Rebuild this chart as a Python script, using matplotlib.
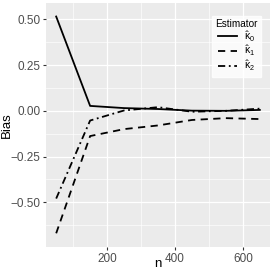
import matplotlib
matplotlib.use("Agg")
import matplotlib.pyplot as plt

plt.rcParams["font.family"] = ["Liberation Sans", "DejaVu Sans"]
plt.rcParams["mathtext.fontset"] = "custom"
plt.rcParams["mathtext.rm"] = "Liberation Sans"
plt.rcParams["mathtext.it"] = "Liberation Sans"

n = [50, 150, 250, 350, 450, 550, 650]
bias_k0 = [0.516, 0.027, 0.015, 0.010, 0.001, 0.000, 0.005]
bias_k1 = [-0.670, -0.138, -0.100, -0.080, -0.050, -0.040, -0.045]
bias_k2 = [-0.480, -0.053, 0.002, 0.020, -0.005, 0.000, 0.012]
labels = [r"$\hat{\kappa}_0$", r"$\hat{\kappa}_1$", r"$\hat{\kappa}_2$"]

fig = plt.figure(figsize=(2.73, 2.73), dpi=100)
ax = fig.add_axes([46/273, 1 - 247/273, 224/273, 244/273])
ax.set_facecolor("#EBEBEB")

ax.plot(n, bias_k0, color="black", lw=1.3, ls="-", label=labels[0])
ax.plot(n, bias_k1, color="black", lw=1.3, ls=(0, (4, 3)), label=labels[1])
ax.plot(n, bias_k2, color="black", lw=1.3, ls=(0, (4, 2, 1, 2)), label=labels[2])

ax.set_xlim(20, 680)
ax.set_ylim(-0.745, 0.59)
ax.set_xticks([200, 400, 600])
ax.set_xticks([100, 300, 500], minor=True)
ax.set_yticks([-0.5, -0.25, 0, 0.25, 0.5])
ax.set_yticks([-0.625, -0.375, -0.125, 0.125, 0.375], minor=True)
ax.set_yticklabels(["\u22120.50", "\u22120.25", "0.00", "0.25", "0.50"])
ax.grid(which="major", color="white", lw=0.9)
ax.grid(which="minor", color="white", lw=0.45)
ax.set_axisbelow(True)
for s in ax.spines.values():
    s.set_visible(False)
ax.tick_params(which="major", length=2.5, color="#333333", labelsize=8.5, labelcolor="#4D4D4D", pad=1.5)
ax.tick_params(which="minor", length=0)
ax.set_xlabel("n", fontsize=9.5)
ax.set_ylabel("Bias", fontsize=9.5)
ax.xaxis.set_label_coords(0.5, -0.045)
ax.yaxis.set_label_coords(-0.147, 0.5)

leg = ax.legend(title="Estimator", loc="upper right", bbox_to_anchor=(0.985, 0.97),
                fontsize=7.5, title_fontsize=7.2, frameon=True, fancybox=False,
                handlelength=1.8, labelspacing=0.0, borderpad=0.35, handletextpad=0.7)
leg.get_frame().set_facecolor("white")
leg.get_frame().set_edgecolor("white")

fig.savefig("out.png", dpi=100)
